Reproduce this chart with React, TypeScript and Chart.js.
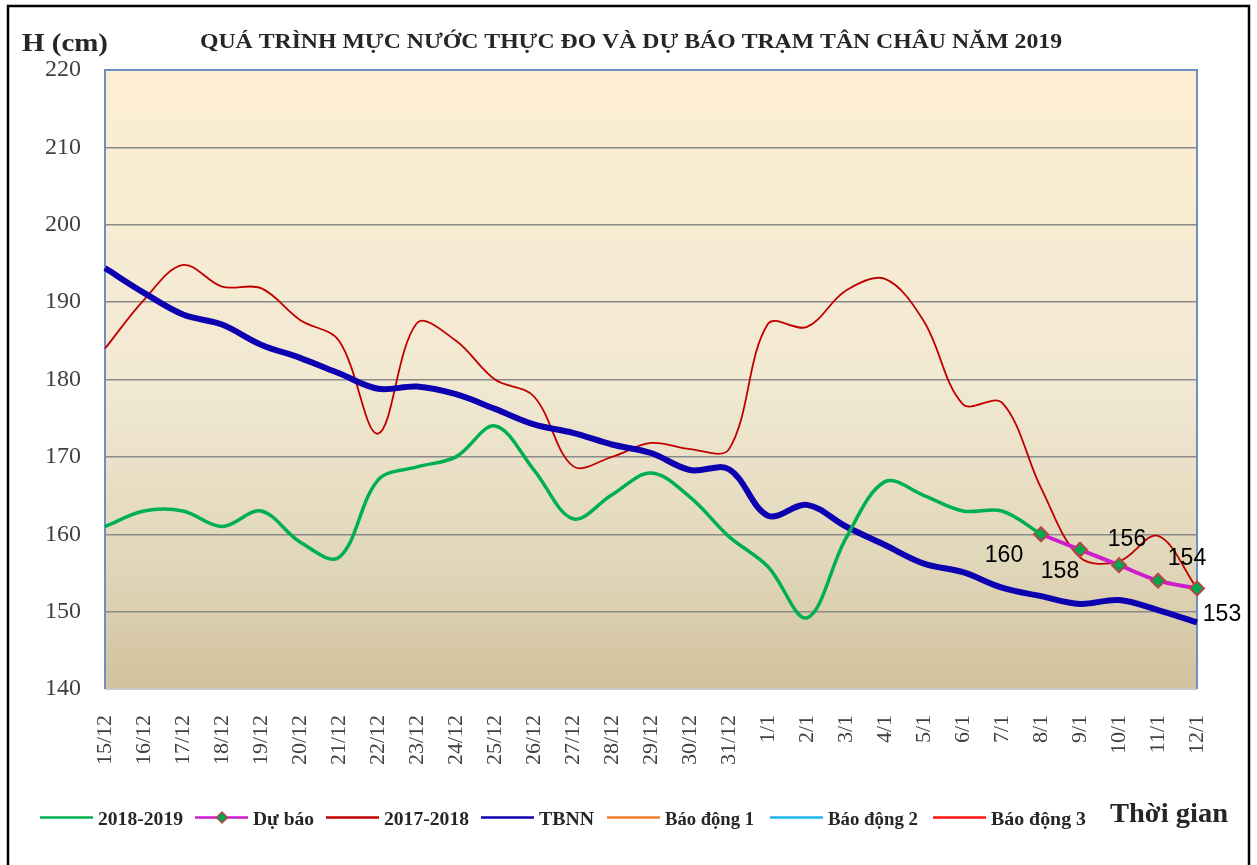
import { useEffect, useRef } from 'react';
import { Chart, registerables } from 'chart.js';

Chart.register(...registerables);

const categories = [
  '15/12', '16/12', '17/12', '18/12', '19/12', '20/12', '21/12', '22/12', '23/12', '24/12',
  '25/12', '26/12', '27/12', '28/12', '29/12', '30/12', '31/12',
  '1/1', '2/1', '3/1', '4/1', '5/1', '6/1', '7/1', '8/1', '9/1', '10/1', '11/1', '12/1',
];

const season2018_2019 = [
  161, 163, 163, 161, 163, 159, 157, 167, 168.7, 170,
  174, 168.3, 162, 165.1, 167.9, 164.8, 159.7,
  155.8, 149.2, 159.5, 166.8, 165, 163, 163, 160, null, null, null, null,
];

const forecast = [
  null, null, null, null, null, null, null, null, null, null,
  null, null, null, null, null, null, null,
  null, null, null, null, null, null, null, 160, 158, 156, 154, 153,
];

const season2017_2018 = [
  184, 190.3, 194.8, 192, 191.8, 187.7, 185, 173, 187.3, 185,
  180, 177.8, 168.8, 170, 171.8, 171, 171,
  187.2, 186.8, 191.5, 193, 187.5, 176.8, 177, 166, 157, 156.5, 159.8, 153,
];

const tbnn = [
  194.4, 191.2, 188.4, 187.1, 184.5, 182.8, 180.8, 178.8, 179.1, 178.1,
  176.2, 174.2, 173.1, 171.6, 170.5, 168.3, 168.4,
  162.4, 163.8, 161, 158.6, 156.2, 155.1, 153.1, 152, 151, 151.5, 150.2, 148.6,
];

const alarm1: (number | null)[] = [];
const alarm2: (number | null)[] = [];
const alarm3: (number | null)[] = [];

const yTicks = { min: 140, max: 220, step: 10 };

const seriesLabels = ['2018-2019', 'Dự báo', '2017-2018', 'TBNN', 'Báo động 1', 'Báo động 2', 'Báo động 3'];

// layout / style (not data)
const legendStarts = [40, 195, 326, 481, 607, 770, 933];
const legendTextWidths = [85, 61, 85, 55, 89, 90, 95];
const forecastLabelOffsets: [number, number][] = [[-37, 21], [-20, 22], [8, -26], [29, -22], [25, 26]];

const SERIF = '"Liberation Serif", "Times New Roman", serif';
const SANS = '"Liberation Sans", Arial, sans-serif';

function drawFit(ctx: CanvasRenderingContext2D, text: string, x: number, y: number, width: number, font: string, color: string) {
  ctx.save();
  ctx.font = font;
  ctx.fillStyle = color;
  ctx.textAlign = 'left';
  ctx.textBaseline = 'alphabetic';
  const w = ctx.measureText(text).width;
  ctx.translate(x, y);
  ctx.scale(width / w, 1);
  ctx.fillText(text, 0, 0);
  ctx.restore();
}

const decorPlugin = {
  id: 'decor',
  beforeDraw(chart: any) {
    const { ctx, chartArea: a } = chart;
    ctx.save();
    ctx.fillStyle = '#ffffff';
    ctx.fillRect(0, 0, chart.width, chart.height);
    const g = ctx.createLinearGradient(0, a.top, 0, a.bottom);
    g.addColorStop(0, '#FDEED2');
    g.addColorStop(0.5, '#F2E9D3');
    g.addColorStop(0.8, '#E0D6B9');
    g.addColorStop(1, '#D2C29D');
    ctx.fillStyle = g;
    ctx.fillRect(a.left, a.top, a.right - a.left, a.bottom - a.top);
    ctx.restore();
  },
  beforeDatasetsDraw(chart: any) {
    const { ctx, chartArea: a } = chart;
    ctx.save();
    ctx.lineWidth = 2;
    ctx.strokeStyle = '#C9C9C9';
    ctx.beginPath();
    ctx.moveTo(a.left, a.bottom);
    ctx.lineTo(a.right, a.bottom);
    ctx.stroke();
    ctx.strokeStyle = '#6B8FC6';
    ctx.beginPath();
    ctx.moveTo(a.left, a.bottom);
    ctx.lineTo(a.left, a.top);
    ctx.lineTo(a.right, a.top);
    ctx.lineTo(a.right, a.bottom);
    ctx.stroke();
    ctx.restore();
  },
  afterDatasetsDraw(chart: any) {
    const { ctx } = chart;
    const meta = chart.getDatasetMeta(1);
    ctx.save();
    ctx.font = '23px ' + SANS;
    ctx.fillStyle = '#000000';
    ctx.textAlign = 'center';
    ctx.textBaseline = 'middle';
    let k = 0;
    meta.data.forEach((pt: any, i: number) => {
      const v = forecast[i];
      if (v == null) return;
      const off = forecastLabelOffsets[k++] || [0, -20];
      ctx.fillText(String(v), pt.x + off[0], pt.y + off[1]);
    });
    ctx.restore();
  },
  afterDraw(chart: any) {
    const { ctx } = chart;
    // outer frame
    ctx.save();
    ctx.strokeStyle = '#000000';
    ctx.lineWidth = 2.5;
    ctx.strokeRect(8, 6, 1241, 900);
    ctx.restore();

    drawFit(ctx, 'QUÁ TRÌNH MỰC NƯỚC THỰC ĐO VÀ DỰ BÁO TRẠM TÂN CHÂU NĂM 2019', 200, 48, 862, 'bold 22px ' + SERIF, '#262626');
    drawFit(ctx, 'H (cm)', 22, 51, 86, 'bold 26px ' + SERIF, '#262626');
    drawFit(ctx, 'Thời gian', 1110, 822, 118, 'bold 28px ' + SERIF, '#262626');

    // legend
    const ds = chart.data.datasets;
    const ly = 817.5;
    ds.forEach((d: any, i: number) => {
      const x0 = legendStarts[i];
      ctx.save();
      ctx.strokeStyle = d.borderColor;
      ctx.lineWidth = 2.5;
      ctx.beginPath();
      ctx.moveTo(x0, ly);
      ctx.lineTo(x0 + 53, ly);
      ctx.stroke();
      if (d.pointRadius && d.pointRadius > 0) {
        const cx = x0 + 27;
        const r = 5.5;
        ctx.fillStyle = d.pointBackgroundColor;
        ctx.strokeStyle = d.pointBorderColor;
        ctx.lineWidth = 1.5;
        ctx.beginPath();
        ctx.moveTo(cx - r, ly);
        ctx.lineTo(cx, ly - r);
        ctx.lineTo(cx + r, ly);
        ctx.lineTo(cx, ly + r);
        ctx.closePath();
        ctx.fill();
        ctx.stroke();
      }
      ctx.restore();
      drawFit(ctx, d.label, x0 + 58, 825, legendTextWidths[i], 'bold 19px ' + SERIF, '#262626');
    });
  },
};

export default function App() {
  const ref = useRef<HTMLCanvasElement | null>(null);

  useEffect(() => {
    document.body.style.margin = '0';
    const canvas = ref.current;
    if (!canvas) return;
    const chart = new Chart(canvas, {
      type: 'line',
      data: {
        labels: categories,
        datasets: [
          {
            label: seriesLabels[0],
            data: season2018_2019,
            borderColor: '#00B050',
            borderWidth: 3.5,
            pointRadius: 0,
            tension: 0.35,
            order: 0,
          },
          {
            label: seriesLabels[1],
            data: forecast,
            borderColor: '#CC1ECC',
            borderWidth: 4,
            pointStyle: 'rectRot',
            pointRadius: 7,
            pointBackgroundColor: '#00A650',
            pointBorderColor: '#B5464A',
            pointBorderWidth: 2,
            tension: 0.35,
            order: 1,
          },
          {
            label: seriesLabels[2],
            data: season2017_2018,
            borderColor: '#C00000',
            borderWidth: 1.8,
            pointRadius: 0,
            tension: 0.35,
            order: 3,
          },
          {
            label: seriesLabels[3],
            data: tbnn,
            borderColor: '#0C00B0',
            borderWidth: 6,
            pointRadius: 0,
            tension: 0.35,
            order: 2,
          },
          { label: seriesLabels[4], data: alarm1, borderColor: '#EE7D2A', pointRadius: 0, order: 4 },
          { label: seriesLabels[5], data: alarm2, borderColor: '#1DB5F0', pointRadius: 0, order: 5 },
          { label: seriesLabels[6], data: alarm3, borderColor: '#FF1010', pointRadius: 0, order: 6 },
        ],
      },
      options: {
        responsive: false,
        animation: false,
        devicePixelRatio: 1,
        layout: { padding: { top: 70, right: 60, bottom: 0, left: 0 } },
        plugins: {
          legend: { display: false },
          title: { display: false },
          tooltip: { enabled: false },
        },
        scales: {
          x: {
            offset: false,
            grid: { display: false, drawTicks: false },
            border: { display: false },
            ticks: {
              autoSkip: false,
              maxRotation: 90,
              minRotation: 90,
              padding: 26,
              color: '#404040',
              font: { family: SERIF, size: 22 },
            },
            afterFit(scale: any) {
              scale.height = 176;
            },
          },
          y: {
            min: yTicks.min,
            max: yTicks.max,
            ticks: {
              stepSize: yTicks.step,
              padding: 24,
              color: '#404040',
              font: { family: SERIF, size: 24 },
            },
            grid: { color: '#8A8A8A', lineWidth: 1.5, drawTicks: false },
            border: { display: false },
            afterFit(scale: any) {
              scale.width = 105;
            },
          },
        },
      },
      plugins: [decorPlugin],
    });
    return () => chart.destroy();
  }, []);

  return (
    <div style={{ width: 1257, height: 865 }}>
      <canvas ref={ref} width={1257} height={865} style={{ display: 'block', width: 1257, height: 865 }} />
    </div>
  );
}
